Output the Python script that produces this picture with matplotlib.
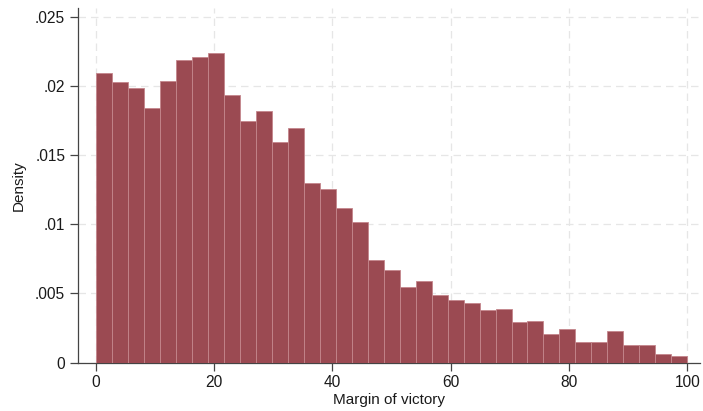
import numpy as np
import matplotlib
matplotlib.use('Agg')
import matplotlib.pyplot as plt

plt.rcParams['font.family'] = ['Liberation Sans', 'DejaVu Sans']

# Histogram of margin of victory: 37 equal bins between 0 and 100
bin_lo = 0
bin_hi = 100
n_bins = 37
density = [0.0210, 0.0203, 0.0199, 0.0184, 0.0204, 0.0219, 0.0221, 0.0224,
           0.0194, 0.0175, 0.0182, 0.0160, 0.0170, 0.0130, 0.0126, 0.0112,
           0.0102, 0.0074, 0.0067, 0.0055, 0.0059, 0.0049, 0.0045, 0.0043,
           0.0038, 0.0039, 0.0029, 0.0030, 0.0021, 0.0024, 0.0015, 0.0015,
           0.0023, 0.0013, 0.0013, 0.0006, 0.0005]
x_ticks = [0, 20, 40, 60, 80, 100]
y_ticks = [0, 0.005, 0.01, 0.015, 0.02, 0.025]
y_labels = ['0', '.005', '.01', '.015', '.02', '.025']

edges = np.linspace(bin_lo, bin_hi, n_bins + 1)

fig = plt.figure(figsize=(7.03, 4.11), dpi=100)
ax = fig.add_axes([0.1105, 0.118, 0.885, 0.8625])

ax.bar(edges[:-1], density, width=np.diff(edges), align='edge',
       color='#9b4a52', edgecolor='#c4868c', linewidth=0.6, zorder=3)

ax.set_xlim(-3.05, 102.1)
ax.set_ylim(0, 0.02567)
ax.set_xticks(x_ticks)
ax.set_yticks(y_ticks)
ax.set_yticklabels(y_labels)

ax.grid(True, color='#e6e6e6', linestyle=(0, (6, 4)), linewidth=0.9, zorder=0)
for s in ['top', 'right']:
    ax.spines[s].set_visible(False)
for s in ['left', 'bottom']:
    ax.spines[s].set_color('#444444')
    ax.spines[s].set_linewidth(0.9)
ax.tick_params(direction='out', length=6, width=0.9, color='#444444',
               labelsize=11.2, labelcolor='#1a1a1a', pad=3)

ax.set_xlabel('Margin of victory', fontsize=11, color='#1a1a1a', labelpad=2)
ax.set_ylabel('Density', fontsize=11, color='#1a1a1a', labelpad=7)

fig.savefig('out.png', dpi=100)
